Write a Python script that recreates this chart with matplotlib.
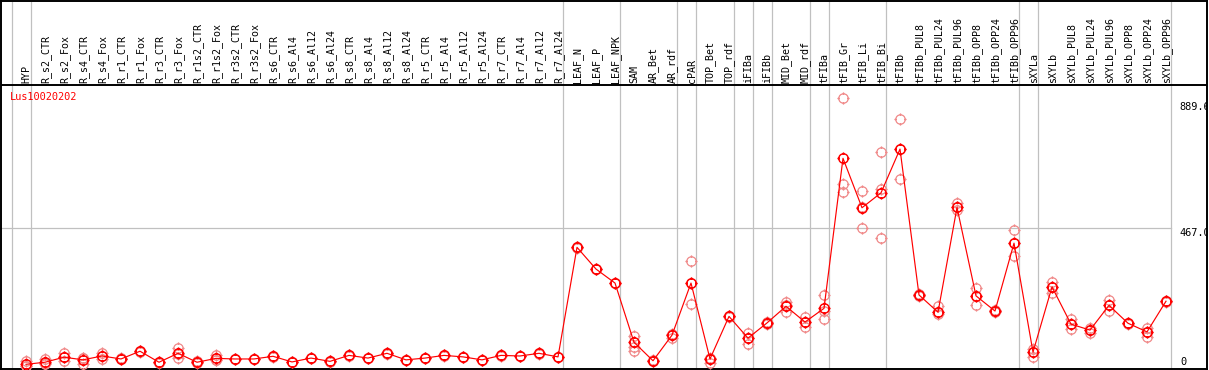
import matplotlib
matplotlib.use("Agg")
import matplotlib.pyplot as plt
from matplotlib.path import Path
import numpy as np

gene_id = "Lus10020202"

categories = [
    "HYP", "R_s2_CTR", "R_s2_Fox", "R_s4_CTR", "R_s4_Fox", "R_r1_CTR", "R_r1_Fox",
    "R_r3_CTR", "R_r3_Fox", "R_r1s2_CTR", "R_r1s2_Fox", "R_r3s2_CTR", "R_r3s2_Fox",
    "R_s6_CTR", "R_s6_Al4", "R_s6_Al12", "R_s6_Al24", "R_s8_CTR", "R_s8_Al4",
    "R_s8_Al12", "R_s8_Al24", "R_r5_CTR", "R_r5_Al4", "R_r5_Al12", "R_r5_Al24",
    "R_r7_CTR", "R_r7_Al4", "R_r7_Al12", "R_r7_Al24", "LEAF_N", "LEAF_P", "LEAF_NPK",
    "SAM", "AR_Bet", "AR_rdf", "cPAR", "TOP_Bet", "TOP_rdf", "iFIBa", "iFIBb",
    "MID_Bet", "MID_rdf", "tFIBa", "tFIB_Gr", "tFIB_Li", "tFIB_Bi", "tFIBb",
    "tFIBb_PUL8", "tFIBb_PUL24", "tFIBb_PUL96", "tFIBb_OPP8", "tFIBb_OPP24",
    "tFIBb_OPP96", "sXYLa", "sXYLb", "sXYLb_PUL8", "sXYLb_PUL24", "sXYLb_PUL96",
    "sXYLb_OPP8", "sXYLb_OPP24", "sXYLb_OPP96",
]

means = [
    10, 17, 34, 25, 38, 28, 54, 17, 47, 17, 30, 28, 28, 37, 18,
    31, 20, 40, 31, 47, 25, 31, 40, 35, 25, 40, 38, 47, 35,
    403, 330, 283,
    84, 22, 108, 283, 28, 171, 98, 149, 205, 152, 198,
    702, 536, 586, 733,
    243, 185, 537, 240, 189, 417,
    51, 270, 145, 125, 208, 148, 119, 222,
]

replicates = [
    [21, 4, 6], [27, 13, 12], [47, 21, 34], [32, 10, 30], [47, 28, 38],
    [30, 27, 28], [56, 52, 54], [18, 16, 17], [66, 30, 45], [20, 14, 17],
    [42, 23, 26], [29, 27, 28], [29, 27, 28], [39, 35, 37], [19, 17, 18],
    [32, 30, 31], [21, 19, 20], [41, 39, 40], [32, 30, 31], [48, 46, 47],
    [26, 24, 25], [32, 30, 31], [41, 39, 40], [36, 34, 35], [26, 24, 25],
    [41, 39, 40], [39, 37, 38], [48, 46, 47], [36, 34, 35],
    [405, 401, 403], [331, 329, 330], [284, 282, 283],
    [105, 67, 56], [24, 20, 22], [98, 112, 110], [356, 212, 283], [30, 15, 28],
    [173, 169, 171], [116, 78, 98], [151, 147, 149], [220, 187, 210],
    [168, 135, 152], [243, 162, 190],
    [904, 616, 589], [592, 539, 468], [723, 598, 433], [834, 631, 733],
    [245, 241, 243], [206, 178, 185], [553, 528, 537], [265, 208, 240],
    [191, 187, 189], [460, 374, 417],
    [60, 36, 51], [288, 248, 270], [163, 130, 145], [131, 114, 125],
    [226, 189, 208], [150, 146, 148], [133, 103, 119], [224, 220, 222],
]

group_ends = [-1, 0, 28, 31, 34, 35, 37, 38, 39, 41, 42, 45, 52, 53, 60]
scale_ticks = [889.6, 467.0, 0]

# ---- figure geometry (pixel based) ----
W, H = 1209, 370
fig = plt.figure(figsize=(W / 100, H / 100), dpi=100)
ax_left, ax_right = 1, 1207
ax_top, ax_bot = 1, 368.5
ax = fig.add_axes([ax_left / W, (H - ax_bot) / H, (ax_right - ax_left) / W, (ax_bot - ax_top) / H])

x0_pix, dx_pix = 26.0, 19.0
zero_pix, ppu = 367.3, 0.2977  # value 0 position and pixels per unit

def xd(p):
    return (p - x0_pix) / dx_pix

def yd(p):
    return (zero_pix - p) / ppu

ax.set_xlim(xd(ax_left), xd(ax_right))
ax.set_ylim(yd(ax_bot), yd(ax_top))
ax.set_xticks([])
ax.set_yticks([])
for s in ax.spines.values():
    s.set_linewidth(1.4)
    s.set_color("black")

grid_col = "#c0c0c0"
x = np.arange(len(categories))

for g in group_ends:
    ax.axvline(g + 0.25, color=grid_col, lw=0.9, zorder=1)

# separator between label band and plot
sep_val = yd(85)
ax.axhline(sep_val, color="black", lw=1.4, zorder=3)
# mid gridline
ax.plot([xd(ax_left), group_ends[-1] + 0.25], [scale_ticks[1], scale_ticks[1]],
        color=grid_col, lw=0.9, zorder=1)

mono = "DejaVu Sans Mono"
fs_lab = 7.2
fs = 7.4
for xi, lab in zip(x, categories):
    ax.text(xi + 0.03, yd(83), lab, rotation=90, ha="center", va="bottom",
            fontsize=fs_lab, family=mono, color="black")

ax.text(xd(10), yd(97), gene_id, ha="left", va="center", fontsize=fs,
        family=mono, color="red")

ax.text(xd(1179), scale_ticks[0], "%.1f" % scale_ticks[0], ha="left", va="top",
        fontsize=fs, family=mono, color="black", clip_on=True)
ax.text(xd(1179), scale_ticks[1], "%.1f" % scale_ticks[1], ha="left", va="top",
        fontsize=fs, family=mono, color="black", clip_on=True)
ax.text(xd(1180), scale_ticks[2], "0", ha="left", va="bottom",
        fontsize=fs, family=mono, color="black", clip_on=True)

# custom marker: circle with four short stubs
circ = Path.unit_circle()
verts = list(circ.vertices)
codes = list(circ.codes)
for (a, b) in [((0, 0.75), (0, 1.3)), ((0, -0.75), (0, -1.3)),
               ((0.75, 0), (1.3, 0)), ((-0.75, 0), (-1.3, 0))]:
    verts += [a, b]
    codes += [Path.MOVETO, Path.LINETO]
marker = Path(verts, codes)

rep_col = "#f08a8a"
for xi, reps in zip(x, replicates):
    ax.plot([xi] * len(reps), reps, linestyle="none", marker=marker,
            markersize=8.8, markerfacecolor="none", markeredgecolor=rep_col,
            markeredgewidth=0.9, zorder=4)

ax.plot(x, means, color="red", lw=0.85, zorder=5)
ax.plot(x, means, linestyle="none", marker=marker, markersize=8.8,
        markerfacecolor="none", markeredgecolor="red", markeredgewidth=1.05, zorder=6)

fig.savefig("out.png", dpi=100)
